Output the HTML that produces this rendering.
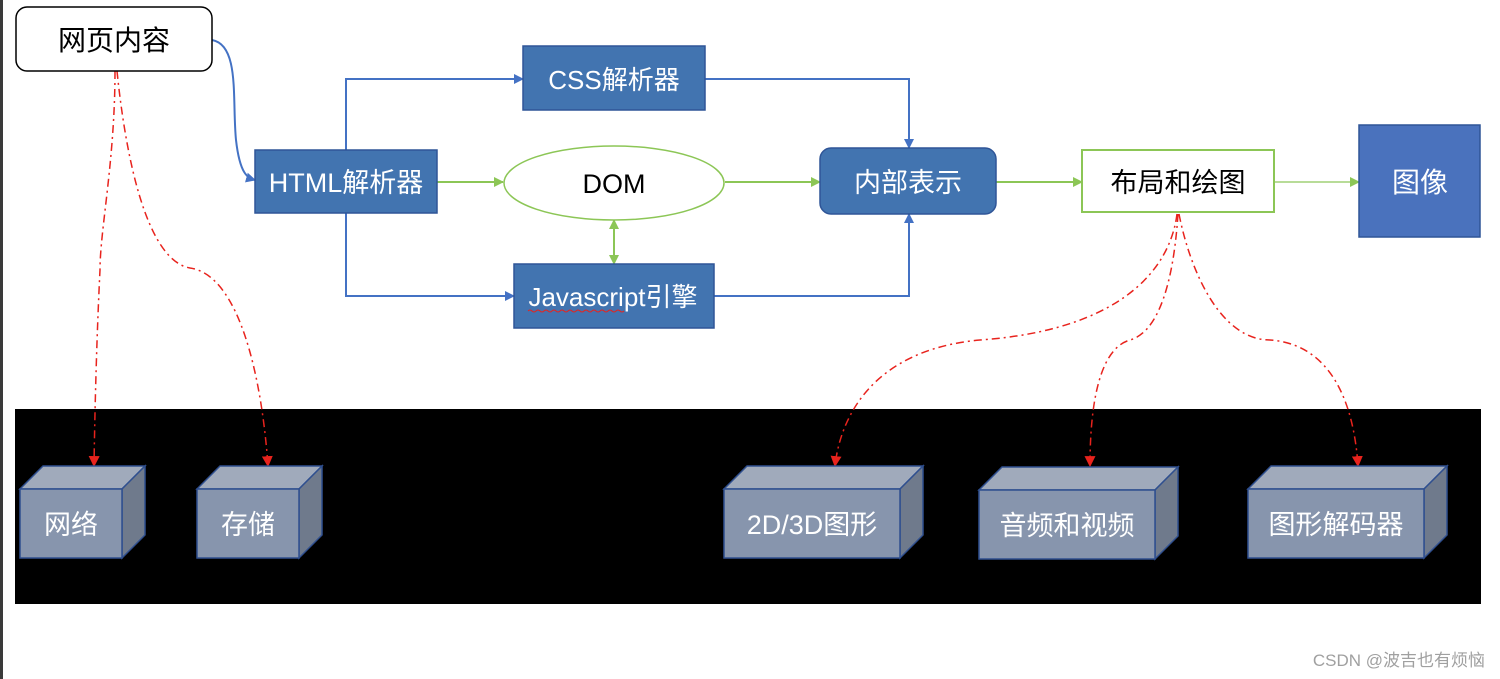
<!DOCTYPE html>
<html><head><meta charset="utf-8"><style>
html,body{margin:0;padding:0;background:#fff;}
svg{display:block;}
text{font-family:"Liberation Sans","Noto Sans CJK SC",sans-serif;}
</style></head><body>
<svg width="1500" height="679" viewBox="0 0 1500 679" xmlns="http://www.w3.org/2000/svg">
<defs>
<marker id="ab" viewBox="0 0 10 10" refX="9" refY="5" markerWidth="10" markerHeight="10" orient="auto-start-reverse" markerUnits="userSpaceOnUse"><path d="M0,0 L10,5 L0,10 z" fill="#4472c4"/></marker>
<marker id="ag" viewBox="0 0 10 10" refX="9" refY="5" markerWidth="10" markerHeight="10" orient="auto-start-reverse" markerUnits="userSpaceOnUse"><path d="M0,0 L10,5 L0,10 z" fill="#8cc656"/></marker>
<marker id="ar" viewBox="0 0 10 10" refX="9" refY="5" markerWidth="11" markerHeight="11" orient="auto" markerUnits="userSpaceOnUse"><path d="M0,0 L10,5 L0,10 z" fill="#e8231d"/></marker>
</defs>
<rect x="0" y="0" width="3" height="679" fill="#3a3a3a"/>
<rect x="15" y="409" width="1466" height="195" fill="#000"/>

<path d="M212,40 C240,45 232,100 236,140 C240,175 248,178 255,180" fill="none" stroke="#4472c4" stroke-width="2" marker-end="url(#ab)"/>
<path d="M346,150 V79 H523" fill="none" stroke="#4472c4" stroke-width="2" marker-end="url(#ab)"/>
<path d="M705,79 H909 V148" fill="none" stroke="#4472c4" stroke-width="2" marker-end="url(#ab)"/>
<path d="M346,213 V296 H514" fill="none" stroke="#4472c4" stroke-width="2" marker-end="url(#ab)"/>
<path d="M714,296 H909 V214" fill="none" stroke="#4472c4" stroke-width="2" marker-end="url(#ab)"/>

<line x1="437" y1="182" x2="503" y2="182" stroke="#8cc656" stroke-width="2" marker-end="url(#ag)"/>
<line x1="725" y1="182" x2="820" y2="182" stroke="#8cc656" stroke-width="2" marker-end="url(#ag)"/>
<line x1="614" y1="220" x2="614" y2="264" stroke="#8cc656" stroke-width="2" marker-start="url(#ag)" marker-end="url(#ag)"/>
<line x1="996" y1="182" x2="1082" y2="182" stroke="#8cc656" stroke-width="2" marker-end="url(#ag)"/>
<line x1="1274" y1="182" x2="1359" y2="182" stroke="#b8dc98" stroke-width="2" marker-end="url(#ag)"/>

<g fill="none" stroke="#e8231d" stroke-width="1.5" stroke-dasharray="8,4,2,4">
<path d="M115,71 C115,160 100,230 100,270 C97,330 95,400 94,466" marker-end="url(#ar)"/>
<path d="M117,71 C125,150 145,260 190,268 C240,275 262,380 268,466" marker-end="url(#ar)"/>
<path d="M1177,214 C1170,270 1120,330 980,340 C870,350 840,420 835,466" marker-end="url(#ar)"/>
<path d="M1178,214 C1175,260 1165,330 1130,340 C1095,350 1090,420 1090,466" marker-end="url(#ar)"/>
<path d="M1179,214 C1190,270 1220,340 1270,340 C1340,345 1355,420 1358,466" marker-end="url(#ar)"/>
</g>

<rect x="16" y="7" width="196" height="64" rx="11" fill="#fff" stroke="#000" stroke-width="1.5"/>
<text x="114" y="50" font-size="28" text-anchor="middle" fill="#000">网页内容</text>

<rect x="523" y="46" width="182" height="64" fill="#4274b0" stroke="#2f5597" stroke-width="1.5"/>
<text x="614" y="89" font-size="26" text-anchor="middle" fill="#fff">CSS解析器</text>

<rect x="255" y="150" width="182" height="63" fill="#4274b0" stroke="#2f5597" stroke-width="1.5"/>
<text x="346" y="192" font-size="27" text-anchor="middle" fill="#fff">HTML解析器</text>

<ellipse cx="614" cy="183" rx="110" ry="37" fill="#fff" stroke="#8cc656" stroke-width="1.5"/>
<text x="614" y="193" font-size="27" text-anchor="middle" fill="#000">DOM</text>

<rect x="514" y="264" width="200" height="64" fill="#4274b0" stroke="#2f5597" stroke-width="1.5"/>
<text x="613" y="306" font-size="26" text-anchor="middle" fill="#fff">Javascript引擎</text>
<path d="M528,311 q2,-2 4,0 t4,0 t4,0 t4,0 t4,0 t4,0 t4,0 t4,0 t4,0 t4,0 t4,0 t4,0 t4,0 t4,0 t4,0 t4,0 t4,0 t4,0 t4,0 t4,0 t4,0 t4,0 t4,0 t4,0" fill="none" stroke="#e8231d" stroke-width="1"/>

<rect x="820" y="148" width="176" height="66" rx="11" fill="#4274b0" stroke="#2f5597" stroke-width="1.5"/>
<text x="908" y="192" font-size="27" text-anchor="middle" fill="#fff">内部表示</text>

<rect x="1082" y="150" width="192" height="62" fill="#fff" stroke="#8cc656" stroke-width="2"/>
<text x="1178" y="192" font-size="27" text-anchor="middle" fill="#000">布局和绘图</text>

<rect x="1359" y="125" width="121" height="112" fill="#4a72bd" stroke="#2f5597" stroke-width="1.5"/>
<text x="1420" y="192" font-size="28" text-anchor="middle" fill="#fff">图像</text>

<g stroke="#2f4f8f" stroke-width="1.5">
<polygon points="20,489 43,466 145,466 122,489" fill="#a0aabb"/>
<polygon points="122,489 145,466 145,535 122,558" fill="#6f7a8c"/>
<rect x="20" y="489" width="102" height="69" fill="#8795ad"/>
<polygon points="197,489 220,466 322,466 299,489" fill="#a0aabb"/>
<polygon points="299,489 322,466 322,535 299,558" fill="#6f7a8c"/>
<rect x="197" y="489" width="102" height="69" fill="#8795ad"/>
<polygon points="724,489 747,466 923,466 900,489" fill="#a0aabb"/>
<polygon points="900,489 923,466 923,535 900,558" fill="#6f7a8c"/>
<rect x="724" y="489" width="176" height="69" fill="#8795ad"/>
<polygon points="979,490 1002,467 1178,467 1155,490" fill="#a0aabb"/>
<polygon points="1155,490 1178,467 1178,536 1155,559" fill="#6f7a8c"/>
<rect x="979" y="490" width="176" height="69" fill="#8795ad"/>
<polygon points="1248,489 1271,466 1447,466 1424,489" fill="#a0aabb"/>
<polygon points="1424,489 1447,466 1447,535 1424,558" fill="#6f7a8c"/>
<rect x="1248" y="489" width="176" height="69" fill="#8795ad"/>
</g>
<g font-size="27" fill="#fff" text-anchor="middle">
<text x="71" y="534">网络</text>
<text x="248" y="534">存储</text>
<text x="812" y="534">2D/3D图形</text>
<text x="1067" y="535">音频和视频</text>
<text x="1336" y="534">图形解码器</text>
</g>

<text x="1485" y="666" font-size="17" text-anchor="end" fill="#a0a0a0">CSDN @波吉也有烦恼</text>
</svg>
</body></html>
